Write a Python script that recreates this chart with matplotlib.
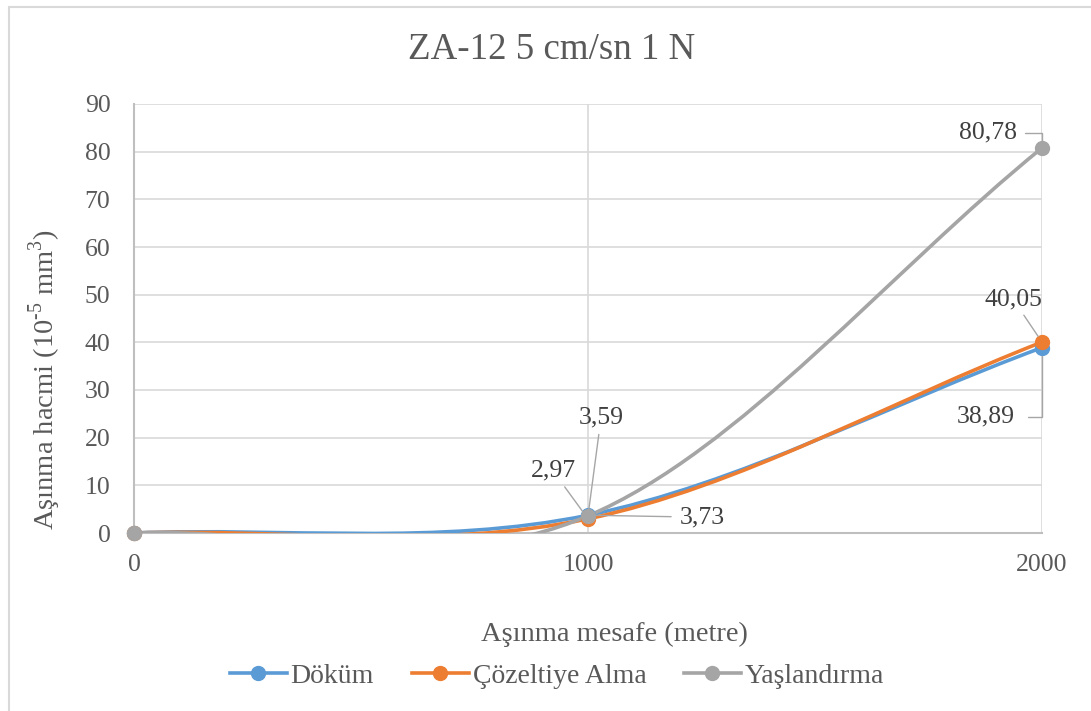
import numpy as np
import matplotlib
matplotlib.use("Agg")
import matplotlib.pyplot as plt
from matplotlib.path import Path
from matplotlib.patches import PathPatch, Rectangle
from matplotlib.lines import Line2D

plt.rcParams['font.family'] = ['Liberation Serif', 'DejaVu Serif']
plt.rcParams['mathtext.fontset'] = 'custom'
plt.rcParams['mathtext.rm'] = 'Liberation Serif'

# ---------------- data ----------------
distance = [0, 1000, 2000]
series_names = ["Döküm", "Çözeltiye Alma", "Yaşlandırma"]
dokum = [0.0, 3.73, 38.89]
cozeltiye = [0.0, 2.97, 40.05]
yaslandirma = [0.0, 3.59, 80.78]
colors = ["#5B9BD5", "#ED7D31", "#A5A5A5"]
x_ticks = [0, 1000, 2000]
y_ticks = [0, 10, 20, 30, 40, 50, 60, 70, 80, 90]

title = "ZA-12 5 cm/sn 1 N"
xlabel = "Aşınma mesafe (metre)"
ylabel = r"Aşınma hacmi (10$^{\text{-5}}$ mm$^{\text{3}}$)"


def excel_smooth_path(xs, ys):
    """Excel-like smoothed line: cubic Bezier with tension 1/6,
    end tangents (P1-P0)/3."""
    pts = np.column_stack([xs, ys]).astype(float)
    n = len(pts)
    verts = [pts[0]]
    codes = [Path.MOVETO]
    for i in range(n - 1):
        p0, p1 = pts[i], pts[i + 1]
        if i == 0:
            c1 = p0 + (p1 - p0) / 3.0
        else:
            c1 = p0 + (p1 - pts[i - 1]) / 6.0
        if i + 1 == n - 1:
            c2 = p1 - (p1 - p0) / 3.0
        else:
            c2 = p1 - (pts[i + 2] - p0) / 6.0
        verts += [c1, c2, p1]
        codes += [Path.CURVE4] * 3
    return Path(verts, codes)


W, H = 1091, 711
fig = plt.figure(figsize=(W / 100, H / 100), dpi=100)
fig.patch.set_facecolor("white")

# chart border (partly outside the image)
fig.patches.append(Rectangle((9 / W, -0.1), 1.2, 1 - 7 / H + 0.1,
                             transform=fig.transFigure, fill=False,
                             edgecolor="#D9D9D9", linewidth=1.5))

ax = fig.add_axes([134 / W, 1 - 533 / H, (1042 - 134) / W, (533 - 104) / H])
ax.set_xlim(0, 2000)
ax.set_ylim(0, 90)
ax.set_xticks(x_ticks)
ax.set_yticks(y_ticks)
ax.set_xticklabels([str(v) for v in x_ticks])
ax.tick_params(axis="both", length=0, labelsize=18.5, colors="#595959")
ax.tick_params(axis="x", pad=15)
ax.tick_params(axis="y", pad=17)
ax.grid(True, color="#D9D9D9", linewidth=1.2)
ax.set_axisbelow(True)
for s in ["top", "right"]:
    ax.spines[s].set_visible(False)
ax.spines["left"].set_color("#BFBFBF")
ax.spines["bottom"].set_color("#BFBFBF")
ax.spines["left"].set_linewidth(1.5)
ax.spines["bottom"].set_linewidth(1.5)

all_series = [dokum, cozeltiye, yaslandirma]
handles = []
for name, vals, c in zip(series_names, all_series, colors):
    patch = PathPatch(excel_smooth_path(distance, vals), facecolor="none",
                      edgecolor=c, linewidth=2.6, capstyle="round",
                      transform=ax.transData, zorder=3)
    ax.add_patch(patch)
    ax.plot(distance, vals, linestyle="none", marker="o", markersize=10,
            color=c, clip_on=False, zorder=4)
    handles.append(Line2D([], [], color=c, linewidth=2.6, marker="o",
                          markersize=10))

# data labels with leader lines
lbl_kw = dict(textcoords="offset pixels", fontsize=18.5, color="#404040",
              va="center", annotation_clip=False, zorder=6)
leader = dict(arrowstyle="-", color="#A6A6A6", linewidth=1.0, shrinkB=5)

ax.annotate("80,78", xy=(distance[2], yaslandirma[2]), xytext=(-25, 15),
            ha="right",
            arrowprops=dict(leader, relpos=(1, 0.5), shrinkA=4,
                            connectionstyle="angle,angleA=0,angleB=90,rad=0"),
            **lbl_kw)
ax.annotate("40,05", xy=(distance[2], cozeltiye[2]), xytext=(-29, 43),
            ha="center", arrowprops=dict(leader, shrinkA=2), **lbl_kw)
ax.annotate("38,89", xy=(distance[2], dokum[2]), xytext=(-27, -69),
            ha="right",
            arrowprops=dict(leader, relpos=(1, 0.5), shrinkA=7, shrinkB=6,
                            connectionstyle="angle,angleA=0,angleB=90,rad=0"),
            **lbl_kw)
ax.annotate("3,59", xy=(distance[1], yaslandirma[1]), xytext=(13, 98),
            ha="center", arrowprops=dict(leader, shrinkA=2, shrinkB=0),
            **lbl_kw)
ax.annotate("2,97", xy=(distance[1], cozeltiye[1]), xytext=(-35, 48),
            ha="center", arrowprops=dict(leader, shrinkA=2, shrinkB=3),
            **lbl_kw)
ax.annotate("3,73", xy=(distance[1], dokum[1]), xytext=(114, -2),
            ha="center", arrowprops=dict(leader, shrinkA=4, shrinkB=5),
            **lbl_kw)

fig.text(552 / W, 1 - 50 / H, title, ha="center", va="center",
         fontsize=26.6, color="#595959")
fig.text(614 / W, 1 - 634 / H, xlabel, ha="center", va="center",
         fontsize=20.5, color="#595959")
fig.text(45 / W, 1 - 380 / H, ylabel, ha="center", va="center",
         rotation=90, fontsize=20.5, color="#595959")

leg = fig.legend(handles, series_names, loc="center",
                 bbox_to_anchor=(557 / W, 1 - 676 / H), ncol=3, frameon=False,
                 fontsize=20, handlelength=2.05, handletextpad=0.15,
                 columnspacing=1.35, labelcolor="#595959")

fig.savefig("out.png", dpi=100, facecolor="white")
